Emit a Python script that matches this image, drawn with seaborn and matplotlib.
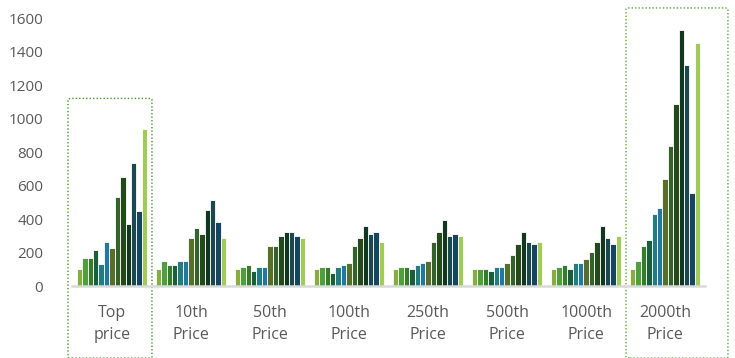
import numpy as np
import pandas as pd

import matplotlib.pyplot as plt
import seaborn as sns

from matplotlib.patches import FancyBboxPatch


# =========================================================
# DATA
# =========================================================

groups = [
    "Top\nprice",
    "10th\nPrice",
    "50th\nPrice",
    "100th\nPrice",
    "250th\nPrice",
    "500th\nPrice",
    "1000th\nPrice",
    "2000th\nPrice"
]

series_names = [f"Series {i}" for i in range(1, 14)]

top_price = [100, 165, 165, 215, 130, 260, 225, 530, 650, 370, 735, 445, 940]
price_10th = [103, 151, 127, 127, 151, 151, 285, 344, 310, 455, 515, 382, 285]
price_50th = [103, 115, 127, 91, 115, 115, 237, 237, 297, 321, 321, 297, 285]
price_100th = [103, 115, 115, 80, 115, 127, 139, 237, 285, 358, 308, 321, 261]
price_250th = [103, 115, 115, 103, 127, 139, 151, 261, 321, 394, 297, 308, 297]
price_500th = [103, 103, 103, 91, 115, 115, 139, 187, 249, 321, 261, 249, 261]
price_1000th = [103, 115, 127, 103, 139, 139, 163, 201, 261, 358, 285, 249, 297]
price_2000th = [103, 151, 237, 275, 432, 468, 639, 836, 1088, 1526, 1319, 555, 1452]

group_values = [
    top_price,
    price_10th,
    price_50th,
    price_100th,
    price_250th,
    price_500th,
    price_1000th,
    price_2000th
]

y_ticks = [0, 200, 400, 600, 800, 1000, 1200, 1400, 1600]

palette = [
    "#8dc02b",
    "#45b02d",
    "#2b8b1c",
    "#0e6b3b",
    "#148a8e",
    "#0a7fb9",
    "#5a7a1f",
    "#2e6b21",
    "#1f5213",
    "#0b3d1f",
    "#114f57",
    "#0a4a6b",
    "#a8dd45"
]

rows = []

for group, values in zip(groups, group_values):

    for name, value in zip(series_names, values):

        rows.append({
            "group": group,
            "series": name,
            "value": value
        })

df = pd.DataFrame(rows)


# =========================================================
# PLOT
# =========================================================

sns.set_theme(style="white")

plt.rcParams["font.family"] = ["Open Sans", "DejaVu Sans"]

fig = plt.figure(figsize=(7.35, 3.58), dpi=100)

ax = fig.add_axes([0.0986, 0.2011, 0.86, 0.7486])

sns.barplot(
    data=df,
    x="group",
    y="value",
    hue="series",
    hue_order=series_names,
    order=groups,
    palette=palette,
    width=0.89,
    gap=0,
    edgecolor="white",
    linewidth=0.6,
    legend=False,
    ax=ax
)

ax.set_xlim(-0.5, len(groups) - 0.5)
ax.set_ylim(0, 1600)
ax.set_yticks(y_ticks)

ax.set_xlabel("")
ax.set_ylabel("")

for side in ["top", "right", "left"]:
    ax.spines[side].set_visible(False)

ax.spines["bottom"].set_color("#d9d9d9")
ax.spines["bottom"].set_linewidth(1.8)

ax.tick_params(axis="y", length=0, pad=21, labelsize=11, labelcolor="#595959")
ax.tick_params(axis="x", length=0, pad=14, labelsize=11.5, labelcolor="#595959")

for label in ax.get_xticklabels():
    label.set_linespacing(1.5)


# =========================================================
# HIGHLIGHT BOXES
# =========================================================

left_box = FancyBboxPatch(
    (-0.557, -430),
    1.063,
    1550,
    boxstyle="round,pad=0,rounding_size=0.05",
    mutation_aspect=120,
    fill=False,
    edgecolor="#3f9a2a",
    linestyle=(0, (1, 1.5)),
    linewidth=1.0,
    clip_on=False
)

right_box = FancyBboxPatch(
    (6.506, -430),
    1.29,
    2090,
    boxstyle="round,pad=0,rounding_size=0.05",
    mutation_aspect=120,
    fill=False,
    edgecolor="#5aa83a",
    linestyle=(0, (1, 1.5)),
    linewidth=1.0,
    clip_on=False
)

ax.add_patch(left_box)
ax.add_patch(right_box)

fig.savefig("out.png", dpi=100)
